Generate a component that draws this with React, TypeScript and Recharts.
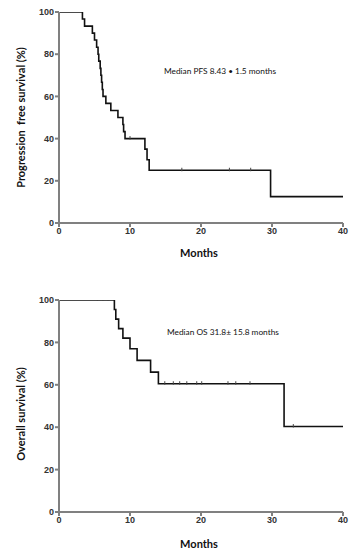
import { ComposedChart, Line, Scatter, XAxis, YAxis } from "recharts";

// Progression free survival (Kaplan-Meier steps)
const PFS_TIME = [0, 3.3, 3.6, 4.7, 5.0, 5.3, 5.5, 5.6, 5.8, 5.9, 6.0, 6.1, 6.2, 6.6, 7.3, 8.3, 9.0, 9.1, 9.3, 12.1, 12.4, 12.7, 29.8, 40];
const PFS_SURV = [100, 96.7, 93.3, 90, 86.7, 83.3, 80, 76.7, 73.3, 70, 66.7, 63.3, 60, 56.7, 53.3, 50, 46.7, 43.3, 40, 35, 30, 25, 12.5, 12.5];
const PFS_CENSOR_TIME = [10.0, 17.3, 24.0, 27.0];
const PFS_CENSOR_SURV = [40, 25, 25, 25];

// Overall survival
const OS_TIME = [0, 7.8, 8.0, 8.4, 9.0, 10.0, 11.0, 12.9, 14.0, 31.7, 40];
const OS_SURV = [100, 95.5, 91, 86.5, 82, 77, 71.5, 66, 60.5, 40.3, 40.3];
const OS_CENSOR_TIME = [5.4, 6.2, 6.9, 14.9, 16.1, 17.0, 18.0, 19.4, 20.1, 23.8, 24.9, 26.9, 33.0];
const OS_CENSOR_SURV = [100, 100, 100, 60.5, 60.5, 60.5, 60.5, 60.5, 60.5, 60.5, 60.5, 60.5, 40.3];

const X_TICKS = [0, 10, 20, 30, 40];
const Y_TICKS = [0, 20, 40, 60, 80, 100];

const AXIS_GREY = "#808080";
const TICK_STYLE = { fill: "#333", fontSize: 9, fontWeight: 700, fontFamily: "'Liberation Sans', Arial, sans-serif" };
const TITLE_FONT = "Lato, 'Open Sans', sans-serif";

const zip = (t: number[], s: number[]) => t.map((v, i) => ({ t: v, s: s[i] }));

// small vertical tick for censored observations
const CensorMark = (props: any) => {
  const { cx, cy } = props;
  if (cx == null || cy == null) return null;
  return <line x1={cx} x2={cx} y1={cy - 2.5} y2={cy + 1} stroke="#444" strokeWidth={1} />;
};

interface PanelProps {
  height: number;
  plotHeight: number;
  curve: { t: number; s: number }[];
  censors: { t: number; s: number }[];
  yLabel: string;
  yLabelShift: number;
  monthsY: number;
  note: string;
  noteLeft: number;
  noteTop: number;
}

function SurvivalPanel({ height, plotHeight, curve, censors, yLabel, yLabelShift, monthsY, note, noteLeft, noteTop }: PanelProps) {
  const top = 12;
  const xAxisHeight = height - top - plotHeight;
  return (
    <div style={{ position: "relative", width: 360, height }}>
      <ComposedChart width={360} height={height} margin={{ top, right: 17, bottom: 0, left: 0 }}>
        <XAxis
          type="number"
          dataKey="t"
          domain={[0, 40]}
          ticks={X_TICKS}
          allowDataOverflow
          height={xAxisHeight}
          stroke={AXIS_GREY}
          strokeWidth={2}
          tickSize={4}
          tickMargin={1}
          tick={TICK_STYLE}
          label={({ viewBox }: any) => (
            <text
              x={viewBox.x + viewBox.width / 2 - 2}
              y={monthsY}
              textAnchor="middle"
              dominantBaseline="central"
              style={{ fontFamily: TITLE_FONT, fontSize: 11, fontWeight: 700, fill: "#111" }}
            >
              Months
            </text>
          )}
        />
        <YAxis
          type="number"
          domain={[0, 100]}
          ticks={Y_TICKS}
          allowDataOverflow
          width={59}
          stroke={AXIS_GREY}
          strokeWidth={2}
          tickSize={4}
          tickMargin={1}
          tick={TICK_STYLE}
          label={({ viewBox }: any) => {
            const cy = viewBox.y + viewBox.height / 2 + yLabelShift;
            return (
              <text
                x={20}
                y={cy}
                transform={`rotate(-90 20 ${cy})`}
                textAnchor="middle"
                dominantBaseline="central"
                style={{ fontFamily: TITLE_FONT, fontSize: 11, fontWeight: 700, fill: "#111", whiteSpace: "pre" }}
              >
                {yLabel}
              </text>
            );
          }}
        />
        <Line
          data={curve}
          dataKey="s"
          type="stepAfter"
          stroke="#111"
          strokeWidth={1.6}
          dot={false}
          activeDot={false}
          isAnimationActive={false}
        />
        <Scatter data={censors} dataKey="s" shape={CensorMark} isAnimationActive={false} />
      </ComposedChart>
      <div
        style={{
          position: "absolute",
          left: noteLeft,
          top: noteTop,
          fontFamily: TITLE_FONT,
          fontSize: 8.3,
          color: "#111",
          whiteSpace: "nowrap",
          lineHeight: "10px",
        }}
      >
        {note}
      </div>
    </div>
  );
}

export default function App() {
  return (
    <div style={{ position: "absolute", left: 0, top: 0, width: 360, height: 556, background: "#fff" }}>
      <SurvivalPanel
        height={288}
        plotHeight={211}
        curve={zip(PFS_TIME, PFS_SURV)}
        censors={zip(PFS_CENSOR_TIME, PFS_CENSOR_SURV)}
        yLabel="Progression  free survival (%)"
        yLabelShift={0}
        monthsY={252}
        note="Median PFS 8.43 • 1.5 months"
        noteLeft={164}
        noteTop={66}
      />
      <SurvivalPanel
        height={268}
        plotHeight={212}
        curve={zip(OS_TIME, OS_SURV)}
        censors={zip(OS_CENSOR_TIME, OS_CENSOR_SURV)}
        yLabel="Overall survival (%)"
        yLabelShift={8}
        monthsY={255}
        note="Median OS 31.8± 15.8 months"
        noteLeft={167}
        noteTop={39}
      />
    </div>
  );
}
